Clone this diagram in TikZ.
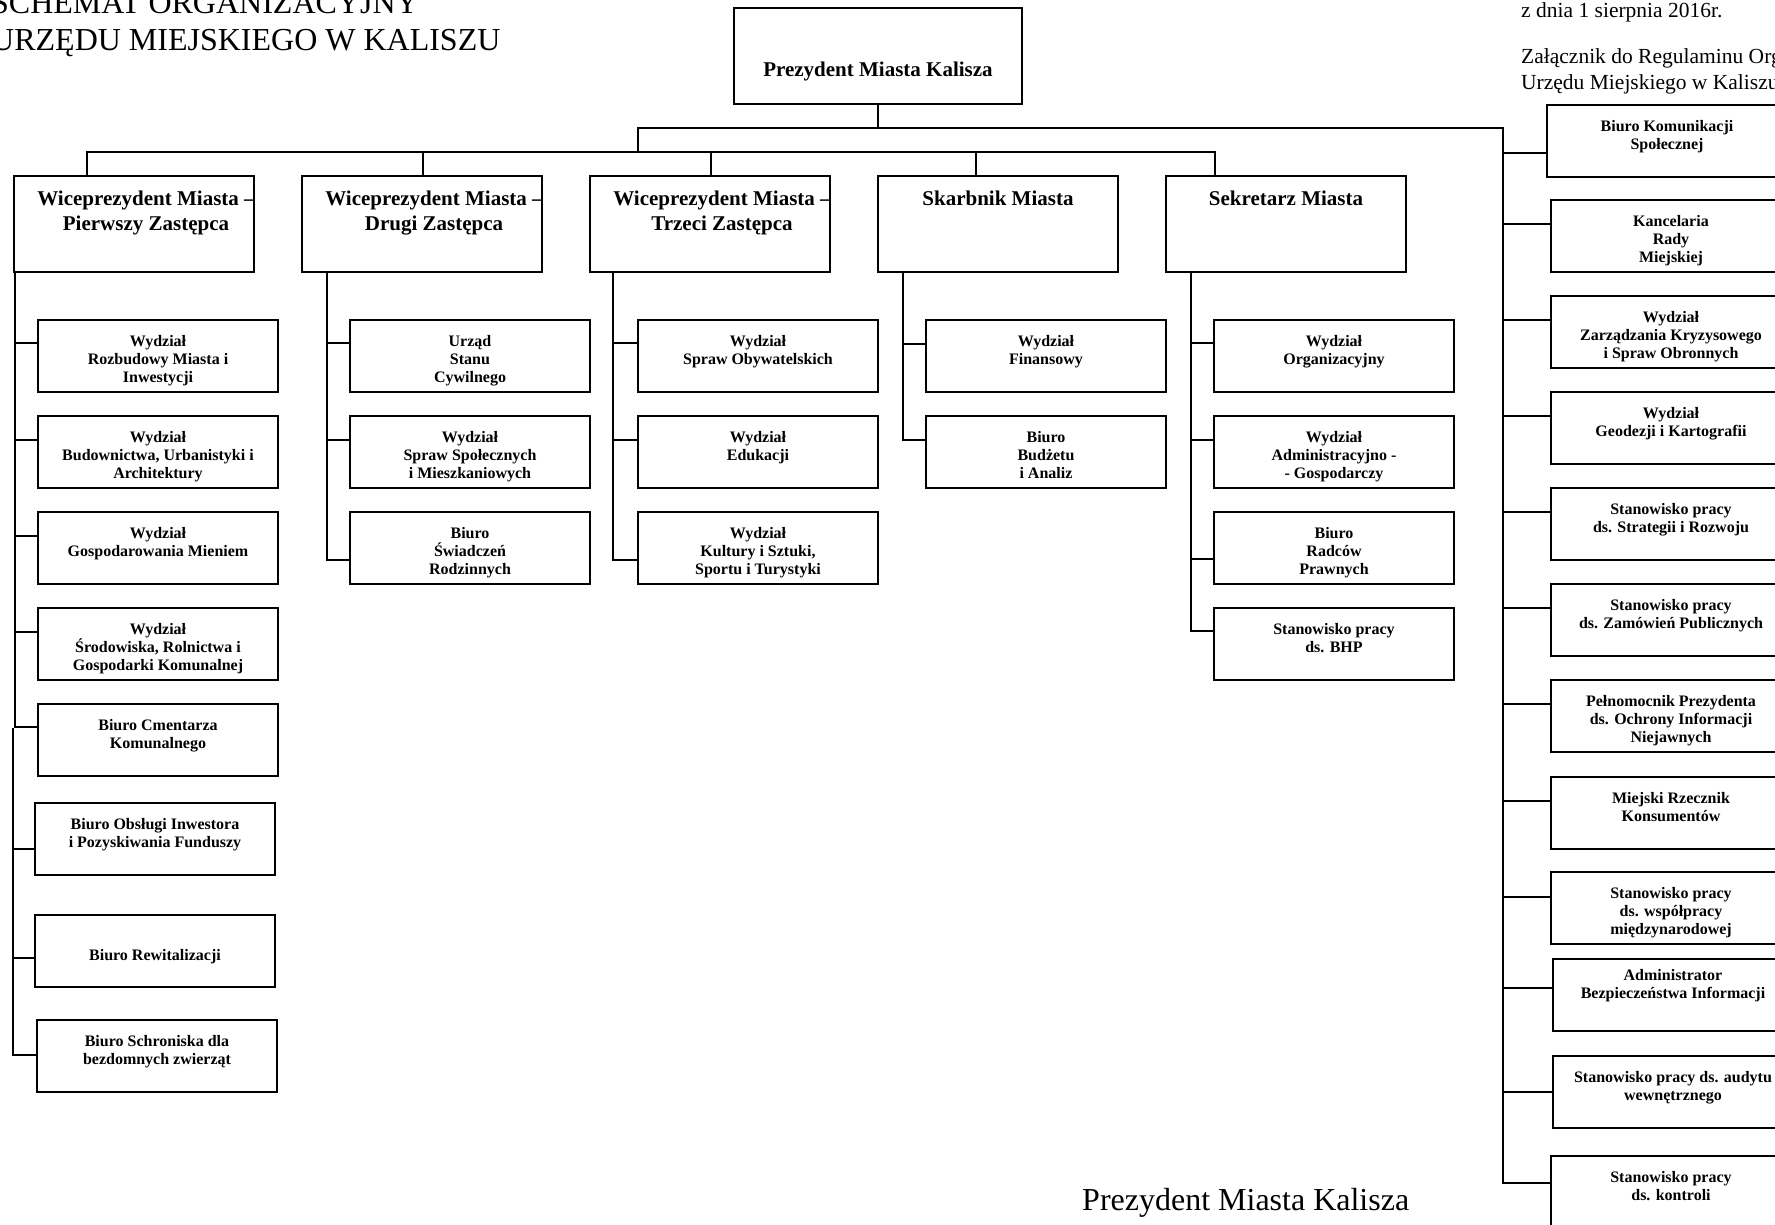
\documentclass[tikz,border=0pt]{standalone}
\usepackage{fontspec}
\setmainfont{Liberation Serif}
\newcommand{\smallbf}{\bfseries\fontsize{16}{18.4}\selectfont}
\newcommand{\bigbf}{\bfseries\fontsize{21}{25}\selectfont}
\newcommand{\boxtext}[4][236]{\parbox[c][#2pt][t]{#1pt}{\centering\lineskiplimit=-100pt\relax\rule{0pt}{#3pt}#4}}
\newcommand{\shifted}[1]{\makebox[236pt]{\hspace{24pt}#1}}
\newcommand{\linkto}[3]{\coordinate (#2c) at ([yshift=-#3pt]#2.north west); \draw[conn] (#1 |- #2c) -- (#2c);}
\tikzset{
  unit/.style={draw, line width=2pt, inner sep=0pt, outer sep=0pt, anchor=north west,
    minimum width=240pt, minimum height=72pt, font=\smallbf},
  head/.style={unit, minimum height=96pt, font=\bigbf},
  conn/.style={line width=2pt, line cap=rect},
  bigplain/.style={inner sep=0pt, anchor=base west, font=\fontsize{32}{37}\selectfont},
  note/.style={inner sep=0pt, anchor=base west, font=\fontsize{21.5}{25}\selectfont},
}
\begin{document}
\begin{tikzpicture}[x=1pt,y=-1pt]
\useasboundingbox (0,0) rectangle (1775,1224);

% titles
\node[bigplain] (t1) at (-9,13) {SCHEMAT ORGANIZACYJNY};
\node[bigplain] (t2) at (-9,50) {URZĘDU MIEJSKIEGO W KALISZU};
\node[note] (n1) at (1521,17) {z dnia 1 sierpnia 2016r.};
\node[note] (n2) at (1521,63) {Załącznik do Regulaminu Org};
\node[note] (n3) at (1521,89) {Urzędu Miejskiego w Kaliszu};
\node[bigplain] (sig) at (1082,1210) {Prezydent Miasta Kalisza};

% president
\node[head, minimum width=288pt] (pres) at (734,8) {\boxtext[284]{96}{68}{Prezydent Miasta Kalisza}};

% top row
\node[head] (vp1) at (14,176) {\boxtext{96}{29}{\shifted{Wiceprezydent Miasta –}\\\shifted{Pierwszy Zastępca}}};
\node[head] (vp2) at (302,176) {\boxtext{96}{29}{\shifted{Wiceprezydent Miasta –}\\\shifted{Drugi Zastępca}}};
\node[head] (vp3) at (590,176) {\boxtext{96}{29}{\shifted{Wiceprezydent Miasta –}\\\shifted{Trzeci Zastępca}}};
\node[head] (skarb) at (878,176) {\boxtext{96}{29}{Skarbnik Miasta}};
\node[head] (sekr) at (1166,176) {\boxtext{96}{29}{Sekretarz Miasta}};

% VP1 children
\node[unit] (r1) at (38,320) {\boxtext{72}{26}{Wydział\\Rozbudowy Miasta i\\Inwestycji}};
\node[unit] (r2) at (38,416) {\boxtext{72}{26}{Wydział\\Budownictwa, Urbanistyki i\\Architektury}};
\node[unit] (r3) at (38,512) {\boxtext{72}{26}{Wydział\\Gospodarowania Mieniem}};
\node[unit] (r4) at (38,608) {\boxtext{72}{26}{Wydział\\Środowiska, Rolnictwa i\\Gospodarki Komunalnej}};
\node[unit] (r5) at (38,704) {\boxtext{72}{26}{Biuro Cmentarza\\Komunalnego}};
\node[unit] (r6) at (35,803) {\boxtext{72}{26}{Biuro Obsługi Inwestora\\i Pozyskiwania Funduszy}};
\node[unit] (r7) at (35,915) {\boxtext{72}{45}{Biuro Rewitalizacji}};
\node[unit] (r8) at (37,1020) {\boxtext{72}{26}{Biuro Schroniska dla\\bezdomnych zwierząt}};

% VP2 children
\node[unit] (u1) at (350,320) {\boxtext{72}{26}{Urząd\\Stanu\\Cywilnego}};
\node[unit] (u2) at (350,416) {\boxtext{72}{26}{Wydział\\Spraw Społecznych\\i Mieszkaniowych}};
\node[unit] (u3) at (350,512) {\boxtext{72}{26}{Biuro\\Świadczeń\\Rodzinnych}};

% VP3 children
\node[unit] (w1) at (638,320) {\boxtext{72}{26}{Wydział\\Spraw Obywatelskich}};
\node[unit] (w2) at (638,416) {\boxtext{72}{26}{Wydział\\Edukacji}};
\node[unit] (w3) at (638,512) {\boxtext{72}{26}{Wydział\\Kultury i Sztuki,\\Sportu i Turystyki}};

% Skarbnik children
\node[unit] (f1) at (926,320) {\boxtext{72}{26}{Wydział\\Finansowy}};
\node[unit] (f2) at (926,416) {\boxtext{72}{26}{Biuro\\Budżetu\\i Analiz}};

% Sekretarz children
\node[unit] (e1) at (1214,320) {\boxtext{72}{26}{Wydział\\Organizacyjny}};
\node[unit] (e2) at (1214,416) {\boxtext{72}{26}{Wydział\\Administracyjno -\\- Gospodarczy}};
\node[unit] (e3) at (1214,512) {\boxtext{72}{26}{Biuro\\Radców\\Prawnych}};
\node[unit] (e4) at (1214,608) {\boxtext{72}{26}{Stanowisko pracy\\ds. BHP}};

% right column
\node[unit] (k1) at (1547,105) {\boxtext{72}{26}{Biuro Komunikacji\\Społecznej}};
\node[unit] (k2) at (1551,200) {\boxtext{72}{26}{Kancelaria\\Rady\\Miejskiej}};
\node[unit] (k3) at (1551,296) {\boxtext{72}{26}{Wydział\\Zarządzania Kryzysowego\\i Spraw Obronnych}};
\node[unit] (k4) at (1551,392) {\boxtext{72}{26}{Wydział\\Geodezji i Kartografii}};
\node[unit] (k5) at (1551,488) {\boxtext{72}{26}{Stanowisko pracy\\ds. Strategii i Rozwoju}};
\node[unit] (k6) at (1551,584) {\boxtext{72}{26}{Stanowisko pracy\\ds. Zamówień Publicznych}};
\node[unit] (k7) at (1551,680) {\boxtext{72}{26}{Pełnomocnik Prezydenta\\ds. Ochrony Informacji\\Niejawnych}};
\node[unit] (k8) at (1551,777) {\boxtext{72}{26}{Miejski Rzecznik\\Konsumentów}};
\node[unit] (k9) at (1551,872) {\boxtext{72}{26}{Stanowisko pracy\\ds. współpracy\\międzynarodowej}};
\node[unit] (k10) at (1553,959) {\boxtext{72}{21}{Administrator\\Bezpieczeństwa Informacji}};
\node[unit] (k11) at (1553,1056) {\boxtext{72}{26}{Stanowisko pracy ds. audytu\\wewnętrznego}};
\node[unit] (k12) at (1551,1156) {\boxtext{72}{26}{Stanowisko pracy\\ds. kontroli}};

% ---- connectors: top
\coordinate (j1) at (878,128);
\coordinate (j2) at (638,128);
\coordinate (j3) at (638,152);
\coordinate (b2l) at (87,152);
\coordinate (d2) at (423,152);
\coordinate (d3) at (711,152);
\coordinate (d4) at (976,152);
\coordinate (b2r) at (1215,152);
\draw[conn] (pres.south) -- (j1);
\draw[conn] (j2) -- (j3);
\draw[conn] (b2l) -- (b2r);
\draw[conn] (b2l) -- (vp1.north -| b2l);
\draw[conn] (d2) -- (vp2.north -| d2);
\draw[conn] (d3) -- (vp3.north -| d3);
\draw[conn] (d4) -- (skarb.north -| d4);
\draw[conn] (b2r) -- (sekr.north -| b2r);

% VP1 branch
\coordinate (s1) at (15,0);
\coordinate (s1b) at (12.5,729);
\linkto{s1}{r1}{23}
\linkto{s1}{r2}{24}
\linkto{s1}{r3}{24}
\linkto{s1}{r4}{24}
\linkto{s1}{r5}{23}
\draw[conn] (vp1.south -| s1) -- (s1 |- r5c);
\linkto{s1b}{r6}{46}
\linkto{s1b}{r7}{43}
\linkto{s1b}{r8}{35}
\draw[conn] (s1b) -- (s1b |- r8c);

% VP2 branch
\coordinate (s2) at (327,0);
\linkto{s2}{u1}{23}
\linkto{s2}{u2}{24}
\linkto{s2}{u3}{48}
\draw[conn] (vp2.south -| s2) -- (s2 |- u3c);

% VP3 branch
\coordinate (s3) at (613,0);
\linkto{s3}{w1}{23}
\linkto{s3}{w2}{24}
\linkto{s3}{w3}{48}
\draw[conn] (vp3.south -| s3) -- (s3 |- w3c);

% Skarbnik branch
\coordinate (s4) at (903,0);
\linkto{s4}{f1}{24}
\linkto{s4}{f2}{24}
\draw[conn] (skarb.south -| s4) -- (s4 |- f2c);

% Sekretarz branch
\coordinate (s5) at (1191,0);
\linkto{s5}{e1}{23}
\linkto{s5}{e2}{24}
\linkto{s5}{e3}{47}
\linkto{s5}{e4}{23}
\draw[conn] (sekr.south -| s5) -- (s5 |- e4c);

% right branch
\coordinate (s6) at (1503,0);
\linkto{s6}{k1}{48}
\linkto{s6}{k2}{24}
\linkto{s6}{k3}{24}
\linkto{s6}{k4}{24}
\linkto{s6}{k5}{24}
\linkto{s6}{k6}{24}
\linkto{s6}{k7}{24}
\linkto{s6}{k8}{24}
\linkto{s6}{k9}{25}
\linkto{s6}{k10}{29}
\linkto{s6}{k11}{36}
\linkto{s6}{k12}{27}
\draw[conn] (j2) -- (s6 |- j2) -- (s6 |- k12c);
\end{tikzpicture}
\end{document}
